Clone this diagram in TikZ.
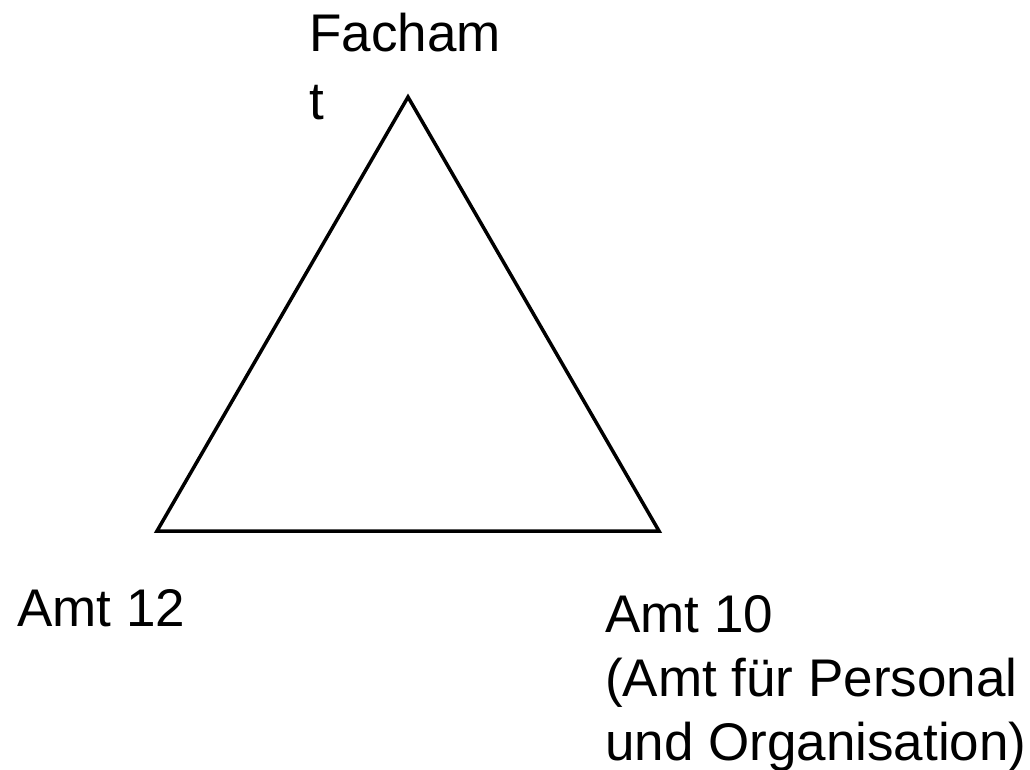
\documentclass[tikz,border=0pt]{standalone}
\usepackage{fontspec}
\setmainfont{Liberation Sans}
\usepackage{tikz}
\usetikzlibrary{positioning}

\begin{document}
\begin{tikzpicture}[x=1pt,y=-1pt,
        label/.style={anchor=north west,inner sep=0pt,align=left,font=\fontsize{53}{64}\selectfont}]
        \useasboundingbox (0,0) rectangle (1030,769);
        % corners of the triangle
        \coordinate (top) at (408,97);
        \coordinate (left) at (157,531);
        \coordinate (right) at (659,531);
        \draw[line width=3.5pt,line join=miter] (top) -- (right) -- (left) -- cycle;
        \node[label,font=\fontsize{53}{68}\selectfont] (fachamt) at (309,13) {Facham\\t};
        \node[label] (amt12) at (17,589) {Amt 12};
        \node[label] (amt10) at (605,595) {Amt 10\\(Amt für Personal\\und Organisation)};
    \end{tikzpicture}
\end{document}
